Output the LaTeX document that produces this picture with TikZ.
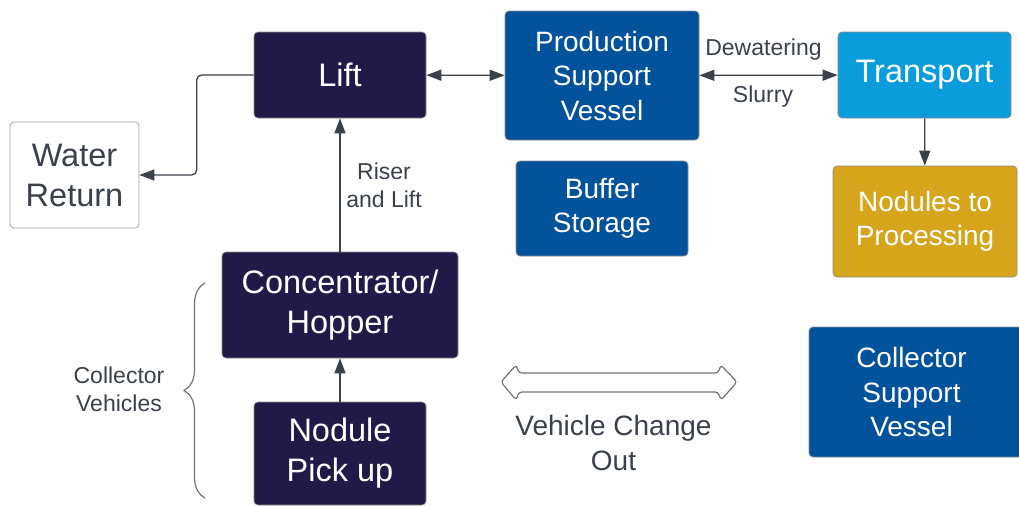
\documentclass[tikz,border=0pt]{standalone}
\usepackage{fontspec}
\setmainfont{Liberation Sans}
\usepackage{tikz}
\usetikzlibrary{arrows.meta,decorations.pathreplacing,positioning}

\definecolor{navy}{HTML}{211A48}
\definecolor{deepblue}{HTML}{02529C}
\definecolor{skyblue}{HTML}{0A9CDB}
\definecolor{gold}{HTML}{D6A51B}
\definecolor{ink}{HTML}{3A414A}

\begin{document}
\begin{tikzpicture}
[x=1pt,y=-1pt,
 box/.style={rectangle,rounded corners=4pt,draw=black!45,line width=0.7pt,
    text=white,align=center,inner sep=0pt},
 bigbox/.style={box,font=\fontsize{32.5}{40}\selectfont},
 medbox/.style={box,font=\fontsize{28}{34.5}\selectfont},
 note/.style={text=ink,align=center,font=\fontsize{23}{28}\selectfont},
 conn/.style={draw=ink,line width=1.3pt,-{Triangle[length=15pt,width=11pt]}},
 biconn/.style={conn,{Triangle[length=15pt,width=11pt]}-{Triangle[length=15pt,width=11pt]}}]
\useasboundingbox (0,0) rectangle (1019,506);

% top row
\node[bigbox,fill=navy,minimum width=172,minimum height=86] (lift) at (340,75) {Lift};
\node[bigbox,fill=white,text=ink,draw=black!40,minimum width=129,minimum height=106] (water) at (74.5,175) {Water\\Return};
\node[medbox,fill=deepblue,minimum width=194,minimum height=129] (psv) at (602,75.5) {Production\\Support\\Vessel};
\node[bigbox,fill=skyblue,minimum width=173,minimum height=86] (transport) at (924.5,75) {Transport};
\node[medbox,fill=deepblue,minimum width=172,minimum height=95] (buffer) at (602,208.5) {Buffer\\Storage};
\node[medbox,fill=gold,minimum width=184,minimum height=111] (proc) at (925,221.5) {Nodules to\\Processing};

% collector side
\node[bigbox,fill=navy,minimum width=236,minimum height=106] (conc) at (340,305) {Concentrator/\\Hopper};
\node[bigbox,fill=navy,minimum width=172,minimum height=103] (pickup) at (340,453.5) {Nodule\\Pick up};
\node[medbox,fill=deepblue,minimum width=222,minimum height=130] (csv) at (920,392)
  [label={[medbox,draw=none,fill=none,xshift=-8.5pt]center:Collector\\Support\\Vessel}] {};

% labels
\node[note] (dewater) at (763.5,50) {Dewatering};
\node[note] (slurry) at (763,97) {Slurry};
\node[note] (riser) at (384,185) {Riser\\and Lift};
\node[note] (vehicles) at (119,389) {Collector\\Vehicles};
\node[note,font=\fontsize{28}{35}\selectfont] (change) at (613.5,442.5) {Vehicle Change\\Out};

% connectors
\draw [conn,rounded corners=5pt] (lift.west) -- ++(-57,0) |- (water.east);
\draw [biconn] (lift) -- (psv);
\draw [biconn] (psv) -- (transport);
\draw [conn] (transport) -- (proc);
\draw [conn] (conc) -- (lift);
\draw [conn] (pickup) -- (conc);

% brace round the collector vehicles
\draw [draw=black!55,line width=1.2pt,decorate,decoration={brace,amplitude=21pt}]
  (205,498) -- (205,283);

% hollow two-way arrow
\draw [draw=black!55,line width=1.2pt,rounded corners=3pt]
  (501,382) -- (516,365) -- (519,373) -- (718,373) -- (721,365) -- (737,382)
  -- (721,400) -- (718,392) -- (519,392) -- (516,400) -- cycle;
\end{tikzpicture}
\end{document}
